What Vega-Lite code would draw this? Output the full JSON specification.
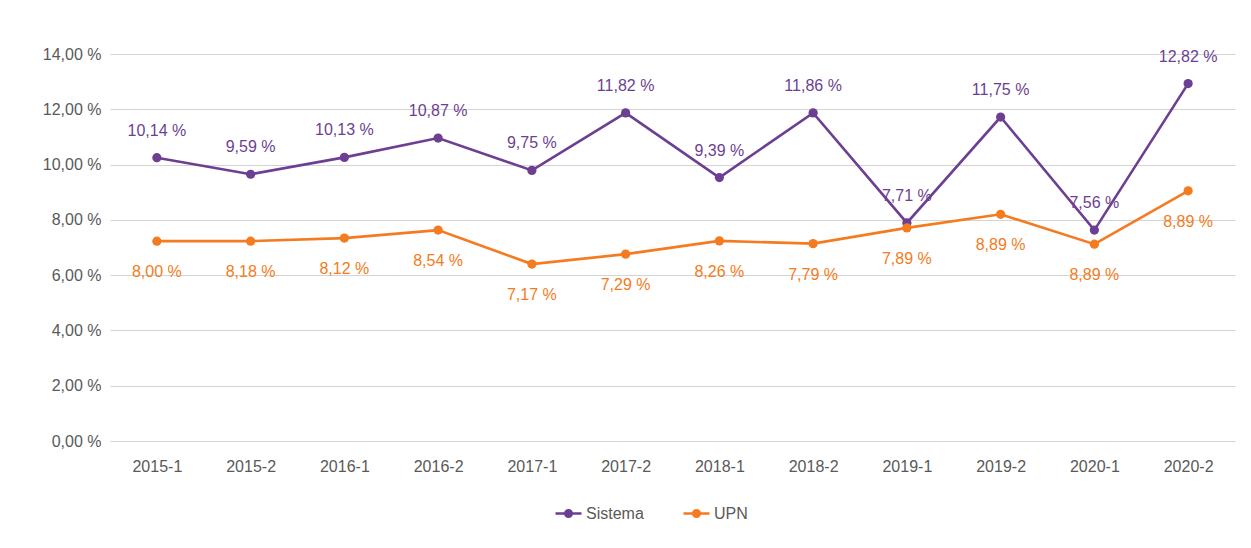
{
  "$schema": "https://vega.github.io/schema/vega-lite/v6.json",
  "width": 1125,
  "height": 387,
  "autosize": {"type": "none"},
  "padding": {"left": 110, "top": 54, "right": 16, "bottom": 107},
  "background": "white",
  "config": {
    "font": "Liberation Sans",
    "view": {"stroke": null},
    "axis": {"labelFont": "Liberation Sans", "labelFontSize": 16, "labelColor": "#595959", "ticks": false, "tickSize": 0, "domain": false, "title": null}
  },
  "data": {
    "values": [
      {"periodo": "2015-1", "serie": "Sistema", "valor": 10.25, "etiqueta": "10,14 %"},
      {"periodo": "2015-2", "serie": "Sistema", "valor": 9.65, "etiqueta": "9,59 %"},
      {"periodo": "2016-1", "serie": "Sistema", "valor": 10.26, "etiqueta": "10,13 %"},
      {"periodo": "2016-2", "serie": "Sistema", "valor": 10.96, "etiqueta": "10,87 %"},
      {"periodo": "2017-1", "serie": "Sistema", "valor": 9.79, "etiqueta": "9,75 %"},
      {"periodo": "2017-2", "serie": "Sistema", "valor": 11.87, "etiqueta": "11,82 %"},
      {"periodo": "2018-1", "serie": "Sistema", "valor": 9.53, "etiqueta": "9,39 %"},
      {"periodo": "2018-2", "serie": "Sistema", "valor": 11.87, "etiqueta": "11,86 %"},
      {"periodo": "2019-1", "serie": "Sistema", "valor": 7.89, "etiqueta": "7,71 %"},
      {"periodo": "2019-2", "serie": "Sistema", "valor": 11.72, "etiqueta": "11,75 %"},
      {"periodo": "2020-1", "serie": "Sistema", "valor": 7.63, "etiqueta": "7,56 %"},
      {"periodo": "2020-2", "serie": "Sistema", "valor": 12.93, "etiqueta": "12,82 %"},
      {"periodo": "2015-1", "serie": "UPN", "valor": 7.23, "etiqueta": "8,00 %"},
      {"periodo": "2015-2", "serie": "UPN", "valor": 7.23, "etiqueta": "8,18 %"},
      {"periodo": "2016-1", "serie": "UPN", "valor": 7.34, "etiqueta": "8,12 %"},
      {"periodo": "2016-2", "serie": "UPN", "valor": 7.63, "etiqueta": "8,54 %"},
      {"periodo": "2017-1", "serie": "UPN", "valor": 6.4, "etiqueta": "7,17 %"},
      {"periodo": "2017-2", "serie": "UPN", "valor": 6.76, "etiqueta": "7,29 %"},
      {"periodo": "2018-1", "serie": "UPN", "valor": 7.24, "etiqueta": "8,26 %"},
      {"periodo": "2018-2", "serie": "UPN", "valor": 7.14, "etiqueta": "7,79 %"},
      {"periodo": "2019-1", "serie": "UPN", "valor": 7.71, "etiqueta": "7,89 %"},
      {"periodo": "2019-2", "serie": "UPN", "valor": 8.2, "etiqueta": "8,89 %"},
      {"periodo": "2020-1", "serie": "UPN", "valor": 7.12, "etiqueta": "8,89 %"},
      {"periodo": "2020-2", "serie": "UPN", "valor": 9.05, "etiqueta": "8,89 %"}
    ]
  },
  "encoding": {
    "x": {
      "field": "periodo", "type": "nominal", "sort": null,
      "scale": {"type": "point", "padding": 0.5},
      "axis": {"labelAngle": 0, "labelPadding": 17, "grid": false}
    },
    "y": {
      "field": "valor", "type": "quantitative",
      "scale": {"domain": [0, 14], "nice": false},
      "axis": {
        "values": [0, 2, 4, 6, 8, 10, 12, 14],
        "labelExpr": "replace(format(datum.value, '.2f'), '.', ',') + ' %'",
        "labelPadding": 9,
        "grid": true, "gridColor": "#d4d4d4", "gridWidth": 1.2
      }
    },
    "color": {
      "field": "serie", "type": "nominal",
      "scale": {"domain": ["Sistema", "UPN"], "range": ["#6c3f92", "#f47b20"]}
    }
  },
  "layer": [
    {
      "mark": {"type": "line", "strokeWidth": 2.6, "point": {"filled": true, "size": 85}},
      "encoding": {
        "color": {
          "field": "serie", "type": "nominal",
          "scale": {"domain": ["Sistema", "UPN"], "range": ["#6c3f92", "#f47b20"]},
          "legend": {
            "orient": "none", "legendX": 444, "legendY": 445,
            "direction": "horizontal", "title": null,
            "symbolType": "M-1,0H1M0.25,0A0.25,0.25,0,1,1,-0.25,0A0.25,0.25,0,1,1,0.25,0Z",
            "symbolSize": 676, "symbolStrokeWidth": 2.6,
            "labelFont": "Liberation Sans", "labelFontSize": 16, "labelColor": "#595959",
            "labelOffset": 3, "columnPadding": 34,
            "encode": {"symbols": {"update": {"fill": {"scale": "color", "field": "value"}, "fillOpacity": {"value": 1}}}}
          }
        }
      }
    },
    {
      "transform": [{"filter": "datum.serie === 'Sistema'"}],
      "mark": {"type": "text", "fontSize": 16, "dy": -27, "baseline": "middle", "font": "Liberation Sans"},
      "encoding": {"text": {"field": "etiqueta"}, "color": {"field": "serie", "type": "nominal", "legend": null}}
    },
    {
      "transform": [{"filter": "datum.serie === 'UPN'"}],
      "mark": {"type": "text", "fontSize": 16, "dy": 31, "baseline": "middle", "font": "Liberation Sans"},
      "encoding": {"text": {"field": "etiqueta"}, "color": {"field": "serie", "type": "nominal", "legend": null}}
    }
  ]
}
